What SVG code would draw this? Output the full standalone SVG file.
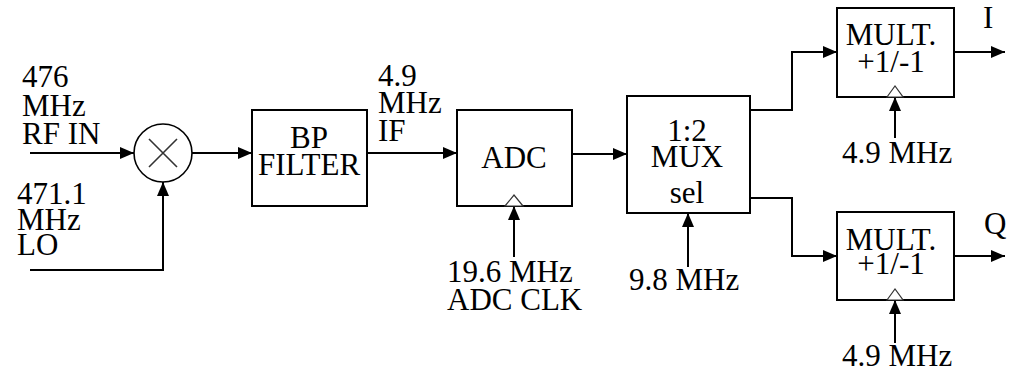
<svg xmlns="http://www.w3.org/2000/svg" width="1013" height="371" viewBox="0 0 1013 371">
<defs>
<marker id="ah" markerUnits="userSpaceOnUse" markerWidth="14" markerHeight="12" refX="14" refY="6" orient="auto">
<path d="M0,0 L14,6 L0,12 z" fill="#000"/>
</marker>
<style>
.box{fill:#fff;stroke:#000;stroke-width:2}
.clk{fill:#fff;stroke:#333;stroke-width:1.2}
.wire{fill:none;stroke:#000;stroke-width:2;marker-end:url(#ah)}
.mid{text-anchor:middle}
</style>
</defs>
<rect width="1013" height="371" fill="#fff"/>
<g id="connectors">
<path class="wire" d="M30,153 H134"/>
<path class="wire" d="M30,270 H163 V182"/>
<path class="wire" d="M192,153 H252"/>
<path class="wire" d="M367,153 H457"/>
<path class="wire" d="M572,154 H627"/>
<path class="wire" d="M750,110 H792 V52 H837"/>
<path class="wire" d="M750,198 H792 V256 H837"/>
<path class="wire" d="M954,52 H1005"/>
<path class="wire" d="M954,256 H1005"/>
<path class="wire" d="M514,257 V206"/>
<path class="wire" d="M688,267 V213"/>
<path class="wire" d="M895,138 V97"/>
<path class="wire" d="M895,343 V300"/>
</g>
<g font-family="Liberation Serif, DejaVu Serif, Times New Roman, serif" font-size="31" fill="#000">
<g id="labels-in">
<text x="22" y="87">476</text>
<text x="22" y="116">MHz</text>
<text x="22" y="144">RF IN</text>
<text x="17" y="204">471.1</text>
<text x="17" y="230">MHz</text>
<text x="17" y="255">LO</text>
<text x="378" y="86">4.9</text>
<text x="378" y="113">MHz</text>
<text x="378" y="141">IF</text>
<text x="447" y="282">19.6 MHz</text>
<text x="447" y="310">ADC CLK</text>
<text x="629" y="290">9.8 MHz</text>
<text x="842" y="163">4.9 MHz</text>
<text x="842" y="366">4.9 MHz</text>
<text x="983" y="28">I</text>
<text x="984" y="234">Q</text>
</g>
<g id="mixer">
<circle cx="163" cy="153" r="29" fill="#fff" stroke="#000" stroke-width="1.6"/>
<path d="M149,139 L177,167 M177,139 L149,167" stroke="#333" stroke-width="1.6"/>
</g>
<g id="bpfilter">
<rect class="box" x="252" y="110" width="115" height="96"/>
<text class="mid" x="309" y="148">BP</text>
<text class="mid" x="309" y="175">FILTER</text>
</g>
<g id="adc">
<rect class="box" x="457" y="110" width="115" height="96"/>
<polygon class="clk" points="505,206 514,195 523,206"/>
<text class="mid" x="514" y="168">ADC</text>
</g>
<g id="mux">
<rect class="box" x="627" y="96" width="123" height="117"/>
<text class="mid" x="687" y="141">1:2</text>
<text class="mid" x="687" y="167">MUX</text>
<text class="mid" x="687" y="203">sel</text>
</g>
<g id="multI">
<rect class="box" x="837" y="8" width="117" height="89"/>
<polygon class="clk" points="887,97 895,86 903,97"/>
<text class="mid" x="891" y="45">MULT.</text>
<text class="mid" x="891" y="72">+1/-1</text>
</g>
<g id="multQ">
<rect class="box" x="837" y="212" width="117" height="88"/>
<polygon class="clk" points="887,300 895,289 903,300"/>
<text class="mid" x="891" y="250">MULT.</text>
<text class="mid" x="891" y="274">+1/-1</text>
</g>
</g>
</svg>
